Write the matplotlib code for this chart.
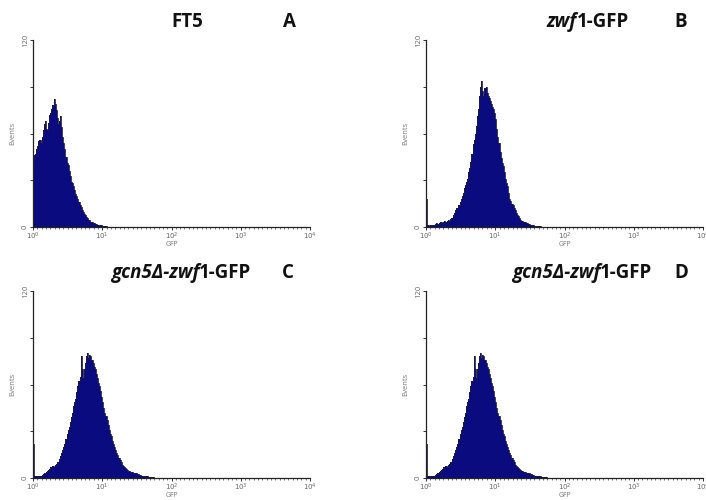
import numpy as np
import matplotlib
matplotlib.use("Agg")
import matplotlib.pyplot as plt
from matplotlib.offsetbox import TextArea, HPacker, AnnotationBbox

plt.rcParams['font.family'] = ['Open Sans', 'DejaVu Sans']
plt.rcParams['mathtext.fontset'] = 'dejavusans'

# ---- data (events per channel, 64 channels per decade, starting at 10^0) ----
channels_per_decade = 64
n_decades = 4

counts_a = [43, 46, 47, 50, 52, 55, 56, 54, 58, 62, 66, 68, 63, 62, 67, 72,
            73, 76, 78, 82, 79, 75, 70, 66, 68, 71, 64, 58, 54, 50, 45, 41,
            40, 36, 33, 29, 28, 26, 24, 21, 20, 18, 16, 14, 13, 11, 9.5, 8.5,
            7.5, 6.5, 5.5, 4.5, 4.5, 3.5, 3.5, 2.5, 2.5, 2, 2, 1.5, 1.5, 1, 1, 1,
            0.8, 0.5, 0.5, 0.5, 0.3, 0.3, 0.3, 0.2]

counts_b = [18, 1, 1, 0.5, 1, 1.5, 1.5, 1, 2, 2.5, 2, 2, 2.5, 3, 3, 2.5,
            3.5, 4, 3.5, 4, 4.5, 4, 5, 5.5, 6, 8, 9, 11, 12, 12.5, 14, 16,
            18, 20, 22, 25, 27, 29, 31, 35, 38, 42, 47, 53, 56, 60, 65, 71,
            76, 84, 90, 94, 87, 84, 89, 90, 86, 84, 83, 81, 79, 77, 76, 73,
            69, 63, 58, 54, 48, 44, 41, 39, 35, 31, 28, 26, 22, 18, 17, 15,
            14, 12, 11, 9, 8, 7, 5.5, 4.5, 4, 4, 3, 3, 2.5, 2.5, 2, 2,
            1.5, 1.5, 1, 1, 0.8, 0.6, 0.5, 0.5, 0.4, 0.4, 0.3, 0.3, 0.3, 0.3]

counts_c = [22, 1, 1, 1, 1, 1.5, 1.5, 1, 2, 2.5, 3, 3, 4, 4.5, 5, 6,
            7, 7, 7.5, 7, 8.5, 9, 10, 10.5, 12, 14, 16, 18, 20, 22, 25, 28,
            31, 33, 36, 39, 42, 46, 49, 51, 55, 59, 62, 65, 78, 70, 64, 70,
            74, 78, 80, 77, 79, 78, 76, 74, 71, 70, 67, 64, 61, 59, 56, 52,
            49, 45, 42, 40, 37, 34, 31, 28, 27, 24, 22, 20, 18, 16, 15, 13,
            11.5, 10, 8.5, 7.5, 7, 6.5, 6, 5, 4.5, 4.5, 4, 4, 3.5, 3.5, 3, 3,
            2.5, 2.5, 2, 2, 1.5, 1.5, 1.2, 1.2, 1, 1, 0.8, 0.8, 0.5, 0.5, 0.4, 0.4,
            0.3, 0.3]

counts_d = [22, 1, 1, 1, 1, 1.5, 1.5, 1, 2, 2.5, 3, 3, 4, 4.5, 5, 6,
            7, 7, 7.5, 7, 8.5, 9, 10, 10.5, 12, 14, 16, 18, 20, 22, 25, 28,
            31, 33, 36, 39, 42, 46, 49, 51, 55, 59, 62, 65, 78, 70, 64, 70,
            74, 78, 80, 77, 79, 78, 76, 74, 71, 70, 67, 64, 61, 59, 56, 52,
            49, 45, 42, 40, 37, 34, 31, 28, 27, 24, 22, 20, 18, 16, 15, 13,
            11.5, 10, 8.5, 7.5, 7, 6.5, 6, 5, 4.5, 4.5, 4, 4, 3.5, 3.5, 3, 3,
            2.5, 2.5, 2, 2, 1.5, 1.5, 1.2, 1.2, 1, 1, 0.8, 0.8, 0.5, 0.5, 0.4, 0.4,
            0.3, 0.3]

# title pieces: (text, italic?)
titles = [
    [("FT5", False)],
    [("zwf", True), ("1-GFP", False)],
    [("gcn5Δ-zwf", True), ("1-GFP", False)],
    [("gcn5Δ-zwf", True), ("1-GFP", False)],
]
letters = ["A", "B", "C", "D"]
xtick_labels = [r"$10^{0}$", r"$10^{1}$", r"$10^{2}$", r"$10^{3}$", r"$10^{4}$"]
y_max = 120

# ---- layout ----
W, H = 706, 500
fig = plt.figure(figsize=(W / 100, H / 100), dpi=100)
fill_color = "#0b0b80"
title_size = 13.5

# (left_px, top_px, right_px, bottom_px, title_x_px, title_y_px, letter_x_px)
panels = [
    (33, 40, 310, 227, 187, 22, 289),
    (426, 40, 703, 227, 588, 22, 681),
    (33, 291, 310, 478, 181, 273, 288),
    (426, 291, 703, 478, 582, 273, 681),
]
all_counts = [counts_a, counts_b, counts_c, counts_d]

n_ch = channels_per_decade * n_decades
edges = 10 ** (np.arange(n_ch + 1) / channels_per_decade)

for (l, t, r, b, tx, ty, lx), counts, title, letter in zip(panels, all_counts, titles, letters):
    ax = fig.add_axes([l / W, 1 - b / H, (r - l) / W, (b - t) / H])
    vals = np.zeros(n_ch)
    vals[:len(counts)] = counts
    ax.stairs(vals, edges, fill=True, color=fill_color, linewidth=0)
    ax.stairs(vals, edges, fill=False, color="#1c1c40", linewidth=0.6)
    ax.set_xscale("log")
    ax.set_xlim(1, 1e4)
    ax.set_ylim(0, y_max)
    for s in ("top", "right"):
        ax.spines[s].set_visible(False)
    for s in ("left", "bottom"):
        ax.spines[s].set_color("#222222")
        ax.spines[s].set_linewidth(0.9)
    ax.set_xticks([1, 10, 100, 1000, 10000])
    ax.set_xticklabels(xtick_labels)
    minor = 10 ** (np.arange(0, n_decades * 16 + 1) / 16)
    ax.set_xticks(minor, minor=True)
    ax.set_xticklabels([], minor=True)
    ax.set_yticks([0, 30, 60, 90, 120])
    ax.set_yticklabels(["0", "", "", "", "120"], rotation=90, va="center")
    ax.tick_params(axis="x", which="major", length=2.5, width=0.7, colors="#333333",
                   labelsize=5, labelcolor="#666666", pad=0)
    ax.tick_params(axis="x", which="minor", length=1.5, width=0.5, colors="#444444")
    ax.tick_params(axis="y", length=2, width=0.7, colors="#333333",
                   labelsize=5.5, labelcolor="#666666", pad=1)
    ax.set_xlabel("GFP", fontsize=5, color="#777777", labelpad=-0.3)
    ax.set_ylabel("Events", fontsize=5.5, color="#777777", labelpad=4)

    parts = [TextArea(txt, textprops=dict(fontsize=title_size, fontweight="bold",
                                          fontstyle="italic" if it else "normal",
                                          color="#111111"))
             for txt, it in title]
    box = HPacker(children=parts, align="baseline", pad=0, sep=0)
    ab = AnnotationBbox(box, (tx / W, 1 - ty / H), xycoords="figure fraction",
                        box_alignment=(0.5, 0.5), frameon=False, pad=0)
    fig.add_artist(ab)
    fig.text(lx / W, 1 - ty / H, letter, ha="center", va="center",
             fontsize=title_size, fontweight="bold", color="#111111")

fig.savefig("out.png", dpi=100)
